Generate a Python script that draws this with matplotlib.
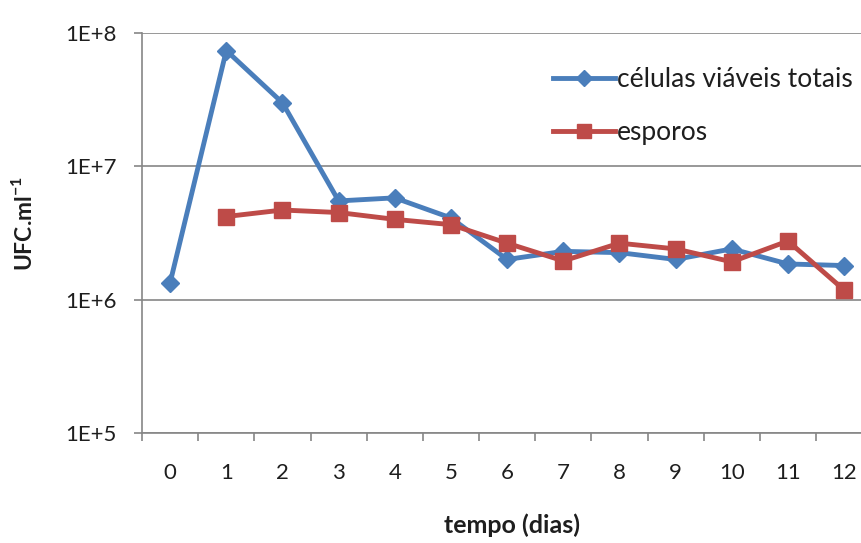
import matplotlib
matplotlib.use('Agg')
import matplotlib.pyplot as plt
from matplotlib.ticker import FixedLocator, NullFormatter

plt.rcParams['font.family'] = ['Lato', 'DejaVu Sans']
plt.rcParams['mathtext.fontset'] = 'custom'
plt.rcParams['mathtext.bf'] = 'Lato:bold'
plt.rcParams['mathtext.rm'] = 'Lato'

dias = list(range(13))
dia_labels = [str(d) for d in dias]

# UFC.ml-1 ao longo do tempo
celulas_totais = [1.34e6, 7.4e7, 3.0e7, 5.5e6, 5.8e6, 4.1e6, 2.0e6,
                  2.3e6, 2.25e6, 2.0e6, 2.4e6, 1.85e6, 1.8e6]
esporos_dias = dias[1:]
esporos = [4.2e6, 4.7e6, 4.5e6, 4.0e6, 3.65e6, 2.65e6,
           1.95e6, 2.65e6, 2.4e6, 1.92e6, 2.75e6, 1.18e6]

azul = '#4a7ebb'
vermelho = '#be4b48'
cinza = '#868686'
texto = '#1e1e1e'

fig = plt.figure(figsize=(8.61, 5.43), dpi=100)
ax = fig.add_axes([0.165, 0.203, 0.848, 0.736])

ax.plot(dias, celulas_totais, color=azul, lw=3.5, marker='D', ms=9.5,
        label='células viáveis totais', zorder=3)
ax.plot(esporos_dias, esporos, color=vermelho, lw=3.5, marker='s', ms=11.5,
        label='esporos', zorder=4)

ax.set_yscale('log')
ax.set_ylim(1e5, 1e8)
ax.set_yticks([1e5, 1e6, 1e7, 1e8])
ax.set_yticklabels(['1E+5', '1E+6', '1E+7', '1E+8'])
ax.yaxis.set_minor_locator(FixedLocator([]))
ax.yaxis.grid(True, color=cinza, lw=1.2)
ax.set_axisbelow(True)

ax.set_xlim(-0.5, 12.5)
ax.set_xticks(dias)
ax.set_xticklabels(dia_labels)
ax.xaxis.set_minor_locator(FixedLocator([d - 0.5 for d in range(14)]))
ax.xaxis.set_minor_formatter(NullFormatter())
ax.tick_params(axis='x', which='major', length=0, pad=22, labelsize=16, colors=texto)
ax.tick_params(axis='x', which='minor', length=6, width=1.2, color=cinza, direction='out')
ax.tick_params(axis='y', which='major', length=6, width=1.2, color=cinza, pad=12,
               labelsize=16, labelcolor=texto)

for s in ['top', 'right']:
    ax.spines[s].set_visible(False)
for s in ['left', 'bottom']:
    ax.spines[s].set_color(cinza)
    ax.spines[s].set_linewidth(1.2)

ax.set_xlabel('tempo (dias)', fontsize=18, fontweight='bold', va='center', color=texto)
ax.xaxis.set_label_coords(0.507, -0.232)
ax.set_ylabel('UFC.ml$^{\\mathbf{-1}}$', fontsize=16.5, fontweight='bold', va='center', color=texto)
ax.yaxis.set_label_coords(-0.162, 0.525)

leg = ax.legend(loc='upper left', bbox_to_anchor=(0.563, 0.915), frameon=False,
                fontsize=19, handlelength=2.35, handletextpad=0.08, labelspacing=1.05,
                borderpad=0, borderaxespad=0, markerscale=0.85)
for t in leg.get_texts():
    t.set_color(texto)

fig.savefig('out.png', dpi=100)
